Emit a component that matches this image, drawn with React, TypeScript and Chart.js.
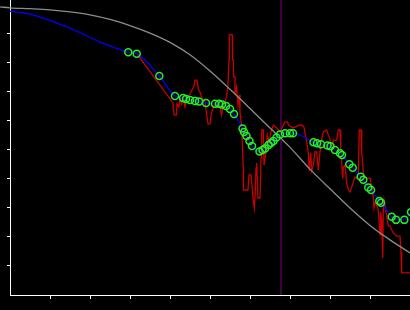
import React, { useEffect, useRef } from "react";
import { Chart, registerables } from "chart.js";

Chart.register(...registerables);

// ---- data (x: 0..400 units, y: 0..10 units) ----
const xTickValues = [40, 80, 120, 160, 200, 240, 280, 320, 360, 400];
const yTickValues = [1, 2, 3, 4, 5, 6, 7, 8, 9];

const grayX = [-10, 0, 20, 40, 60, 80, 100, 120, 140, 160, 180, 200, 220, 240, 260, 280, 300, 320, 340, 360, 380, 400];
const grayY = [9.93, 9.9, 9.87, 9.83, 9.76, 9.66, 9.5, 9.29, 9.03, 8.71, 8.28, 7.72, 7.09, 6.43, 5.76, 5.09, 4.34, 3.66, 3.0, 2.4, 1.9, 1.45];

const blueX = [0, 23, 57, 90, 103,
  118.3, 126.7, 149.3, 165, 173, 176, 180, 185, 189, 196, 205, 209, 212, 216, 220, 224,
  232.5, 234, 236.5, 239.5, 242, 249.5, 252.5, 255, 258.5, 261, 263.5, 266.5, 270, 275, 280, 283,
  303.5, 307, 311, 317.5, 320.5, 325, 330, 332, 339.3, 342.7, 350.7, 353.3, 358.3, 361,
  369.3, 371, 381.7, 386, 394.3, 401];
const blueY = [9.79, 9.66, 9.24, 8.72, 8.55,
  8.37, 8.32, 7.55, 6.86, 6.79, 6.76, 6.72, 6.69, 6.67, 6.62, 6.59, 6.59, 6.57, 6.52, 6.41, 6.24,
  5.74, 5.62, 5.48, 5.31, 5.14, 4.95, 5.0, 5.05, 5.17, 5.24, 5.31, 5.43, 5.53, 5.58, 5.58, 5.58,
  5.27, 5.23, 5.2, 5.15, 5.13, 5.0, 4.89, 4.83, 4.51, 4.39, 4.08, 3.97, 3.71, 3.62,
  3.24, 3.18, 2.7, 2.59, 2.59, 2.86];
const blueMarkerFrom = 5; // points before this index carry no marker

const redX = [127, 163, 164, 166.5, 167, 169, 170, 171.5, 173, 175, 176.5, 178, 180, 182, 184, 185, 187,
  188.5, 190, 191.5, 193, 195, 196.5, 198, 200, 201.5, 203, 205, 206.5, 208, 210, 211.5, 213, 215,
  216.5, 218, 219, 219.3, 222.3, 222.5, 223.5, 223.5, 225, 225, 226.5, 228, 229.3, 230, 231.5, 232.5,
  233.3, 233.5, 238, 239, 241, 242, 243, 244.3, 245, 246, 246.7, 248, 250, 251, 251.7, 253.3, 254,
  256, 257.3, 259.3, 261, 263.3, 266.7, 270, 273.3, 275, 277.5, 278.5, 283, 290, 292, 294, 295,
  296.7, 298.3, 299.3, 300.7, 301.7, 303.3, 305, 306.7, 308.3, 310, 311.5, 313.3, 316.7, 318.3, 320,
  321.7, 323.3, 326.7, 328.3, 330, 330.7, 331.7, 332.7, 333.3, 335, 336.7, 338.3, 340, 341.7, 343.3,
  345, 346.7, 348.3, 349.3, 351, 351.7, 352.7, 353.3, 355, 360, 361.7, 363.3, 364, 365, 366.7, 368.3,
  370, 370.7, 371.7, 372.7, 373.3, 374, 376.7, 378.3, 380, 381.7, 383.3, 386.7, 390, 391, 391.7, 400];
const redY = [8.31, 6.62, 6.21, 6.21, 6.59, 6.48, 6.79, 6.59, 6.79, 6.48, 6.72, 6.83, 6.93, 7.07, 7.21, 7.41, 7.41,
  7.07, 7.0, 6.83, 6.72, 6.66, 6.28, 5.9, 5.9, 6.28, 6.45, 6.62,
  6.48, 6.62, 6.48, 6.21, 6.48, 6.66,
  6.83, 7.24, 8.1, 8.97, 8.97, 8.1, 8.1, 7.52, 7.52, 6.9, 7.17, 6.55, 6.9, 6.31, 5.86, 5.07,
  4.38, 3.62, 3.62, 4.14, 4.14, 3.79, 3.34, 3.0, 3.34, 4.38, 4.55, 3.34, 3.34, 4.72, 5.69, 5.69, 4.48,
  4.93, 5.52, 5.28, 5.62, 5.86, 5.76, 5.62, 5.86, 5.97, 5.97, 5.86, 5.76, 5.86, 5.86, 5.79, 5.59,
  5.28, 4.9, 4.28, 4.9, 4.28, 4.48, 4.93, 4.93, 4.31, 4.93, 5.34, 5.62, 5.69, 5.52, 5.38,
  5.07, 5.34, 5.34, 5.69, 5.69, 5.07, 4.55, 4.03, 4.41, 4.48, 3.86, 3.62, 3.55, 3.72, 3.9,
  4.07, 4.03, 4.21, 5.69, 5.69, 4.9, 4.59, 4.21, 4.03, 4.03, 3.72, 3.38, 3.0, 3.17, 3.1, 2.93,
  2.07, 2.86, 2.59, 1.28, 2.93, 3.28, 2.72, 2.38, 2.38, 2.24, 2.14, 2.03, 2.03, 1.48, 0.76, 0.76];

const cursorX = 271;
const yMin = 0;
const yMax = 10.17;
const xMin = 0;
const xMax = 400;

function pts(xs: number[], ys: number[]) {
  return xs.map((x, i) => ({ x, y: ys[i] }));
}

export default function App() {
  const ref = useRef<HTMLCanvasElement | null>(null);

  useEffect(() => {
    document.body.style.margin = "0";
    document.body.style.background = "#000";
    if (!ref.current) return;
    const blueRadius = blueX.map((_, i) => (i < blueMarkerFrom ? 0 : 3.5));
    const chart = new Chart(ref.current, {
      type: "line",
      data: {
        datasets: [
          {
            data: pts(blueX, blueY),
            borderColor: "#0000ff",
            borderWidth: 1.3,
            cubicInterpolationMode: "monotone",
            pointRadius: blueRadius,
            pointBorderColor: "#22f022",
            pointBackgroundColor: "rgba(0,0,0,0)",
            pointBorderWidth: 1.5,
          },
          {
            data: [{ x: cursorX, y: yMin }, { x: cursorX, y: yMax }],
            borderColor: "#800080",
            borderWidth: 1,
            pointRadius: 0,
          },
          {
            data: pts(grayX, grayY),
            borderColor: "#8c8c8c",
            borderWidth: 1.3,
            cubicInterpolationMode: "monotone",
            pointRadius: 0,
            clip: false as any,
          },
          {
            data: pts(redX, redY),
            borderColor: "#c80000",
            borderWidth: 1.3,
            tension: 0,
            pointRadius: 0,
          },
        ],
      },
      options: {
        animation: false,
        responsive: false,
        events: [],
        layout: { padding: { left: 7, right: 0, top: 0, bottom: 11 }, autoPadding: false } as any,
        plugins: { legend: { display: false }, tooltip: { enabled: false } },
        scales: {
          x: {
            type: "linear",
            min: xMin,
            max: xMax,
            afterBuildTicks: (s: any) => {
              s.ticks = xTickValues.map((v) => ({ value: v }));
            },
            ticks: { display: false },
            grid: { drawOnChartArea: false, color: "#ffffff", tickLength: 4, lineWidth: 1 },
            border: { display: true, color: "#ffffff", width: 1 },
          },
          y: {
            type: "linear",
            min: yMin,
            max: yMax,
            afterBuildTicks: (s: any) => {
              s.ticks = yTickValues.map((v) => ({ value: v }));
            },
            ticks: { display: false },
            grid: { drawOnChartArea: false, color: "#ffffff", tickLength: 3, lineWidth: 1 },
            border: { display: true, color: "#ffffff", width: 1 },
          },
        },
      },
    });
    return () => chart.destroy();
  }, []);

  return (
    <div style={{ width: 410, height: 310, background: "#000" }}>
      <canvas ref={ref} width={410} height={310} style={{ display: "block" }} />
    </div>
  );
}
